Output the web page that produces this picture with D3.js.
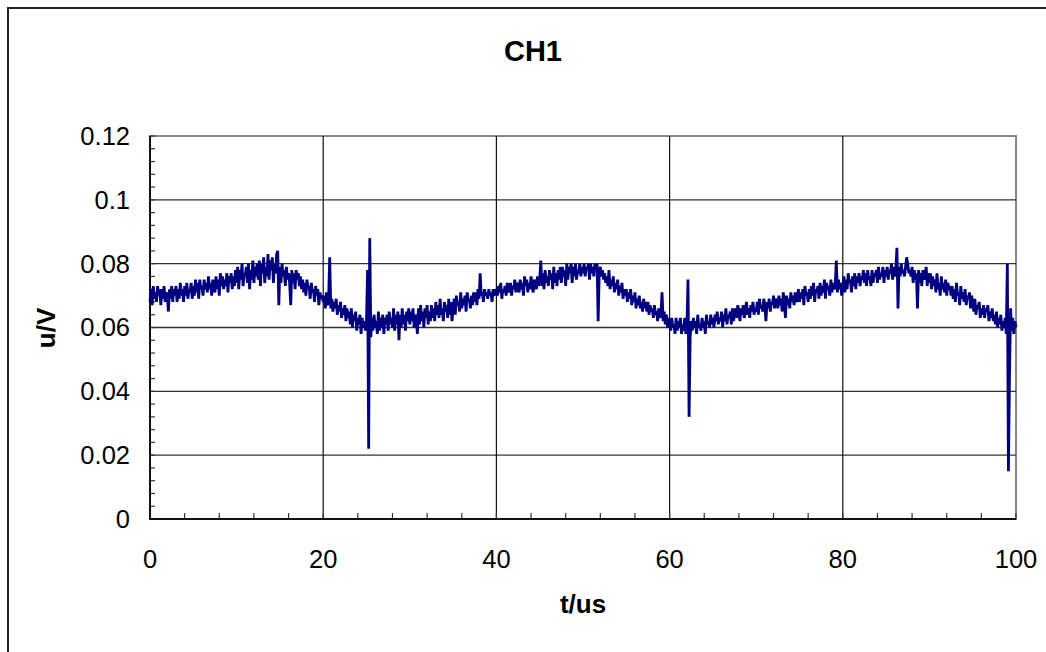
<!DOCTYPE html>
<html>
<head>
<meta charset="utf-8">
<script src="https://cdn.jsdelivr.net/npm/d3@7"></script>
<style>
  body { margin: 0; background: #fff; }
  text { font-family: Arial, "Liberation Sans", sans-serif; fill: #000; }
</style>
</head>
<body>
<script>
// CH1 trace, one sample every 0.125 us, values in mV
// (each row below covers 2.5 us)
const sampleStep = 0.125;
const voltage_mV = [
  68,72,67,73,69,71,68,73,70,72,67,72,69,73,68,71,70,65,72,69,   // 0
  73,68,72,70,73,68,72,69,74,70,72,68,73,70,74,69,72,71,74,69,   // 2.5
  73,70,75,71,74,69,75,72,73,70,75,72,74,71,76,72,74,70,75,73,   // 5
  71,76,72,75,70,77,73,76,72,75,73,77,71,76,74,77,72,76,73,78,   // 7.5
  74,79,72,78,75,80,73,77,76,79,74,80,72,78,75,81,74,79,76,80,   // 10
  75,81,73,80,77,82,74,79,76,83,75,81,78,82,74,80,77,83,84,67,   // 12.5
  79,74,80,76,78,73,79,75,77,74,67,78,74,77,72,78,75,77,73,76,   // 15
  72,75,71,74,70,75,72,73,69,74,71,72,68,73,70,72,67,71,69,70,   // 17.5
  68,70,66,71,67,69,82,66,69,65,68,66,69,64,67,65,68,63,66,64,   // 20
  67,62,66,63,65,61,66,60,64,62,65,59,63,61,64,58,63,60,62,59,   // 22.5
  62,78,22,88,57,63,59,64,60,62,58,65,59,63,60,64,58,63,61,64,   // 25
  59,65,61,63,60,66,59,64,61,65,56,64,60,66,61,64,59,65,62,66,   // 27.5
  61,65,62,66,60,64,63,58,66,61,67,62,65,60,66,63,67,61,65,62,   // 30
  67,63,66,62,68,64,67,63,69,64,66,62,68,65,67,63,69,64,68,62,   // 32.5
  66,69,64,70,67,68,65,71,66,69,67,70,65,71,68,69,66,70,67,71,   // 35
  68,71,67,72,69,77,70,71,68,72,70,71,69,72,70,71,68,72,70,71,   // 37.5
  72,70,73,71,74,69,72,71,73,70,74,72,71,74,70,73,72,75,71,74,   // 40
  73,71,75,72,74,70,76,73,75,71,74,72,76,73,71,75,74,72,76,73,   // 42.5
  75,81,73,77,72,78,74,76,73,78,75,77,72,79,74,77,73,78,75,79,   // 45
  74,79,76,78,73,80,75,79,77,80,74,79,76,80,75,78,77,80,76,79,   // 47.5
  77,80,76,79,78,80,75,80,77,79,76,80,78,80,62,77,79,76,78,75,   // 50
  77,74,76,73,78,72,75,73,76,71,74,72,75,70,73,71,74,69,72,70,   // 52.5
  72,68,71,69,72,67,70,68,71,66,69,67,70,66,68,65,69,66,68,65,   // 55
  68,64,67,65,66,63,67,64,65,62,66,63,64,71,62,65,61,64,60,63,   // 57.5
  62,59,63,60,61,58,63,59,62,60,63,58,61,59,63,58,60,75,32,57,   // 60
  62,59,63,60,62,58,64,60,61,59,63,60,62,58,64,61,62,60,64,61,   // 62.5
  63,60,64,62,65,61,63,62,65,60,64,62,66,61,64,63,65,61,66,62,   // 65
  64,66,63,67,65,62,66,64,67,63,65,68,64,66,63,67,65,68,64,66,   // 67.5
  65,68,64,69,66,67,65,69,67,62,68,66,69,65,68,67,70,66,68,69,   // 70
  66,70,67,69,65,71,68,63,70,67,69,66,71,68,70,67,71,69,68,72,   // 72.5
  68,71,69,72,67,73,70,71,68,72,69,73,70,74,68,72,71,73,69,74,   // 75
  70,73,71,75,69,74,72,73,70,75,71,74,72,73,81,71,75,72,74,70,   // 77.5
  73,76,71,75,72,77,74,75,71,76,73,77,72,76,74,77,73,76,75,78,   // 80
  74,77,73,78,75,76,73,78,74,77,76,78,74,79,75,77,76,79,74,78,   // 82.5
  76,79,75,78,77,80,75,79,76,78,85,66,79,76,80,77,78,76,79,82,   // 85
  80,77,78,76,79,74,78,75,77,66,78,74,77,73,78,75,76,79,73,77,   // 87.5
  74,77,72,76,73,75,71,77,72,74,70,76,72,74,71,75,70,74,72,73,   // 90
  70,73,69,72,68,74,70,71,67,73,69,71,68,72,67,70,69,71,66,70,   // 92.5
  68,65,69,64,67,66,68,63,66,64,67,63,66,65,67,62,65,63,66,62,   // 95
  64,61,65,60,63,61,64,59,62,60,63,58,80,15,45,66,59,63,58,62,   // 97.5
  60
];

const xTicks = [0, 20, 40, 60, 80, 100];
const yTicks = [0, 0.02, 0.04, 0.06, 0.08, 0.1, 0.12];
const yTickLabels = ["0", "0.02", "0.04", "0.06", "0.08", "0.1", "0.12"];

const data = voltage_mV.map((v, i) => ({ t: i * sampleStep, u: v / 1000 }));

const W = 1046, H = 652;
const svg = d3.select("body").append("svg")
  .attr("width", W)
  .attr("height", H);

// outer chart frame (runs off the right / bottom)
svg.append("rect")
  .attr("x", 8).attr("y", 8)
  .attr("width", 1100).attr("height", 700)
  .attr("fill", "none")
  .attr("stroke", "#222")
  .attr("stroke-width", 2);

const x = d3.scaleLinear().domain([0, 100]).range([150, 1016]);
const y = d3.scaleLinear().domain([0, 0.12]).range([519, 136]);

// plot border (gray top/right)
svg.append("rect")
  .attr("x", x(0)).attr("y", y(0.12))
  .attr("width", x(100) - x(0)).attr("height", y(0) - y(0.12))
  .attr("fill", "none")
  .attr("stroke", "#888")
  .attr("stroke-width", 2);

// gridlines
svg.append("g").selectAll("line")
  .data(yTicks.slice(1, -1))
  .enter().append("line")
  .attr("x1", x(0)).attr("x2", x(100))
  .attr("y1", d => y(d)).attr("y2", d => y(d))
  .attr("stroke", "#333")
  .attr("stroke-width", 1.3);

svg.append("g").selectAll("line")
  .data(xTicks.slice(1, -1))
  .enter().append("line")
  .attr("x1", d => x(d)).attr("x2", d => x(d))
  .attr("y1", y(0)).attr("y2", y(0.12))
  .attr("stroke", "#111")
  .attr("stroke-width", 1.2);

// minor ticks, pointing into the plot
svg.append("g").selectAll("line")
  .data(d3.range(0, 0.1201, 0.004))
  .enter().append("line")
  .attr("x1", x(0)).attr("x2", x(0) + 5)
  .attr("y1", d => y(d)).attr("y2", d => y(d))
  .attr("stroke", "#333").attr("stroke-width", 1.2);

svg.append("g").selectAll("line")
  .data(d3.range(0, 100.1, 4))
  .enter().append("line")
  .attr("x1", d => x(d)).attr("x2", d => x(d))
  .attr("y1", y(0)).attr("y2", y(0) - 6)
  .attr("stroke", "#333").attr("stroke-width", 1.2);

// axis lines
svg.append("line")
  .attr("x1", x(0)).attr("x2", x(0))
  .attr("y1", y(0) + 1).attr("y2", y(0.12))
  .attr("stroke", "#111").attr("stroke-width", 2);
svg.append("line")
  .attr("x1", x(0) - 1).attr("x2", x(100))
  .attr("y1", y(0)).attr("y2", y(0))
  .attr("stroke", "#111").attr("stroke-width", 2);

// tick labels
svg.append("g").selectAll("text")
  .data(yTicks)
  .enter().append("text")
  .attr("x", 130)
  .attr("y", d => y(d))
  .attr("dy", "0.35em")
  .attr("text-anchor", "end")
  .style("font-size", "25.5px")
  .text((d, i) => yTickLabels[i]);

svg.append("g").selectAll("text")
  .data(xTicks)
  .enter().append("text")
  .attr("x", d => x(d))
  .attr("y", 568)
  .attr("text-anchor", "middle")
  .style("font-size", "25.5px")
  .text(d => d);

// titles
svg.append("text")
  .attr("x", 533).attr("y", 61)
  .attr("text-anchor", "middle")
  .style("font-size", "29px").style("font-weight", "bold")
  .text("CH1");

svg.append("text")
  .attr("x", 583).attr("y", 613)
  .attr("text-anchor", "middle")
  .style("font-size", "26px").style("font-weight", "bold")
  .text("t/us");

svg.append("text")
  .attr("transform", "translate(55,328) rotate(-90)")
  .attr("text-anchor", "middle")
  .style("font-size", "26px").style("font-weight", "bold")
  .text("u/V");

// the trace
const line = d3.line()
  .x(d => x(d.t))
  .y(d => y(d.u));

svg.append("path")
  .datum(data)
  .attr("fill", "none")
  .attr("stroke", "#000080")
  .attr("stroke-width", 2.8)
  .attr("d", line);
</script>
</body>
</html>
